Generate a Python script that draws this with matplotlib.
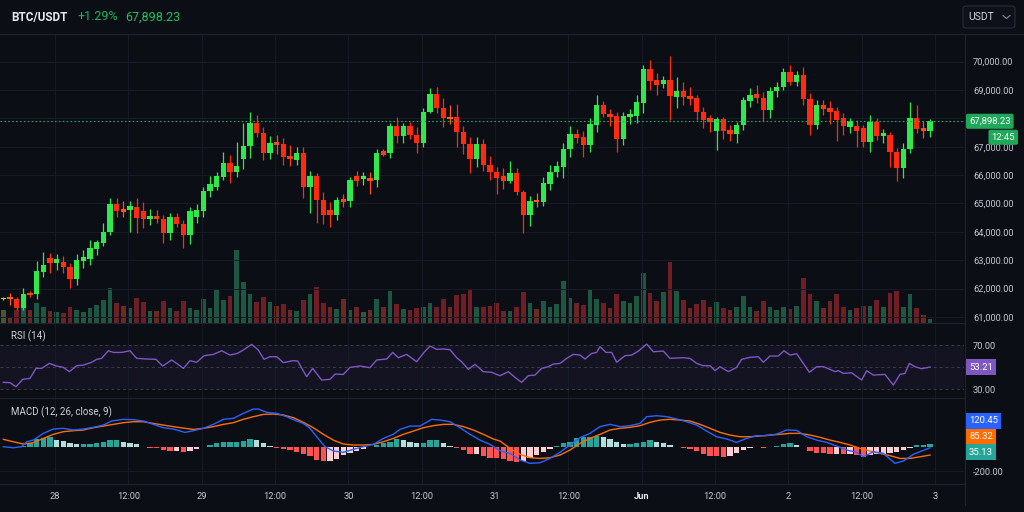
import numpy as np
import matplotlib.pyplot as plt
import matplotlib.transforms as mtransforms
from matplotlib.colors import LinearSegmentedColormap, Normalize
from matplotlib.patches import FancyBboxPatch
from matplotlib.lines import Line2D
from matplotlib.ticker import FuncFormatter

plt.rcParams['font.family'] = ['Roboto', 'DejaVu Sans']

# ---- data (one candle per slot) ----
opens = [61640, 61690, 61620, 61310, 61860, 61810, 62600, 63070, 62890, 62940,
         62770, 62350, 62990, 63030, 63400, 63620, 63980, 64980, 64790, 64770,
         64870, 64750, 64440, 64560, 64440, 63950, 64510, 64280, 63880, 64510,
         64750, 65440, 65590, 65950, 66420, 66120, 66570, 67030, 67830, 67470,
         66770, 67150, 67100, 66670, 66530, 66770, 65590, 65970, 65120, 64770,
         64600, 65150, 65100, 65970, 65880, 65900, 65830, 66840, 66790, 67730,
         67380, 67730, 67420, 67150, 68240, 68860, 68360, 68060, 68040, 67520,
         67100, 66580, 67100, 66360, 66120, 65970, 65810, 66090, 65420, 64580,
         65120, 65070, 65690, 66120, 66300, 66910, 67450, 67330, 67060, 67780,
         68470, 68160, 68090, 67260, 68060, 68090, 68560, 69730, 69350, 69200,
         69350, 68770, 68980, 68790, 68710, 68230, 68000, 67570, 67980, 67590,
         67450, 67770, 68630, 68860, 68710, 68300, 68980, 69120, 69640, 69300,
         69520, 68670, 67760, 68470, 68380, 68260, 68030, 67710, 67730, 67650,
         67160, 67890, 67380, 67420, 66820, 66240, 66920, 68030, 67650, 67560]
highs = [61720, 61860, 61720, 62010, 61930, 62990, 63300, 63270, 63220, 63150,
         62890, 63220, 63360, 63710, 63710, 64320, 65180, 65180, 65100, 65100,
         65180, 65070, 64790, 64770, 64600, 64680, 64680, 64420, 64890, 64980,
         65590, 65970, 66120, 66830, 66710, 67180, 67830, 68240, 68120, 67710,
         67380, 67420, 67300, 67060, 67000, 66980, 66160, 66090, 65420, 65070,
         65240, 65340, 65950, 66160, 66120, 66120, 66910, 66910, 67850, 68040,
         67850, 67890, 67690, 68360, 69060, 69100, 68710, 68470, 68510, 67730,
         67330, 67330, 67260, 66670, 66280, 66240, 66510, 66240, 65480, 65270,
         65360, 65920, 66360, 66510, 67120, 67730, 67610, 67570, 68000, 68830,
         68630, 68320, 68240, 68240, 68320, 68830, 69880, 70060, 69590, 69500,
         70200, 69450, 69300, 69100, 68830, 68410, 68120, 68060, 68060, 67770,
         67890, 68770, 69060, 69180, 68940, 69120, 69300, 69770, 69880, 69680,
         69820, 68910, 68650, 68650, 68630, 68390, 68200, 68000, 67940, 67770,
         68120, 68000, 67610, 67530, 66950, 67150, 68590, 68470, 67920, 67990]
lows = [61600, 61420, 61250, 61250, 61690, 61620, 62420, 62560, 62660, 62540,
        62010, 62130, 62720, 62830, 63190, 63500, 63890, 64540, 64540, 64010,
        63950, 64130, 64240, 64300, 63620, 63710, 64180, 63420, 63570, 64320,
        64540, 65240, 65480, 65830, 65740, 65950, 66210, 66590, 67330, 66530,
        66560, 66750, 66360, 66320, 66360, 65180, 64650, 64300, 64280, 64180,
        64420, 64870, 64890, 65620, 65650, 65340, 65570, 66670, 66590, 67150,
        67150, 67260, 66790, 66980, 68180, 68200, 67690, 67800, 66980, 66750,
        66090, 66280, 66160, 65830, 65340, 65500, 65710, 65300, 63950, 64210,
        64870, 64910, 65480, 65920, 65890, 66630, 67150, 66630, 66830, 67530,
        68060, 67730, 66830, 67060, 67800, 67850, 68180, 69000, 68830, 69060,
        67940, 68360, 68470, 68470, 67940, 67650, 67530, 66890, 67260, 67220,
        67150, 67590, 68410, 68530, 67920, 68000, 68770, 69000, 69180, 69140,
        68470, 67420, 67610, 68120, 67800, 67220, 67420, 67500, 66980, 66980,
        66830, 67240, 67150, 66300, 65810, 65890, 66770, 67470, 67300, 67330]
closes = [61660, 61620, 61310, 61810, 61760, 62630, 62830, 62910, 63060, 62770,
          62350, 63010, 63100, 63420, 63630, 64010, 64980, 64750, 64710, 64910,
          64480, 64440, 64560, 64440, 63950, 64510, 64280, 63880, 64750, 64770,
          65440, 65690, 65970, 66440, 66120, 66320, 67030, 67830, 67500, 66770,
          67120, 67060, 66630, 66560, 66790, 65590, 65970, 65120, 64600, 64600,
          65120, 65050, 65830, 65810, 65970, 65810, 66770, 66720, 67730, 67380,
          67730, 67420, 67150, 68240, 68860, 68360, 68000, 67990, 67520, 67100,
          66580, 67100, 66360, 66120, 65890, 65810, 66090, 65420, 64580, 65090,
          65050, 65710, 66110, 66320, 66930, 67440, 67300, 67060, 67800, 68470,
          68160, 68040, 67260, 68090, 68160, 68590, 69730, 69330, 69180, 69350,
          68790, 68980, 68740, 68670, 68230, 67940, 67890, 67980, 67570, 67450,
          67770, 68650, 68830, 68710, 68300, 68980, 69120, 69640, 69300, 69520,
          68670, 67770, 68470, 68340, 68230, 67940, 67730, 67910, 67540, 67160,
          67890, 67380, 67500, 66820, 66240, 66930, 68030, 67640, 67560, 67898.23]
volumes = [380, 130, 380, 430, 380, 600, 460, 360, 330, 300, 480, 380, 330, 450,
           530, 680, 1030, 580, 510, 430, 730, 630, 350, 350, 650, 450, 350, 650,
           430, 380, 710, 450, 1000, 680, 810, 2180, 1210, 850, 610, 780, 630, 500,
           550, 380, 350, 680, 850, 1080, 580, 480, 400, 710, 380, 470, 330, 380,
           710, 470, 950, 550, 400, 380, 430, 480, 580, 480, 700, 480, 830, 850,
           1010, 480, 460, 500, 580, 360, 360, 470, 930, 600, 410, 650, 480, 550,
           1260, 730, 580, 530, 980, 710, 580, 430, 860, 650, 580, 810, 1500, 900,
           660, 930, 1830, 960, 680, 430, 570, 680, 480, 610, 450, 380, 480, 810,
           460, 360, 660, 460, 380, 480, 400, 500, 1330, 860, 660, 430, 660, 860,
           480, 380, 430, 500, 500, 680, 480, 880, 960, 480, 850, 450, 230, 110]

rsi_x = [0, 1, 1.9, 2.9, 4, 4.9, 5.75, 6.9, 8, 9, 9.9, 11, 12, 13.25, 14, 14.75,
         15.75, 16.5, 17.75, 19, 20, 21.5, 22.9, 23.9, 25.25, 26, 27, 28, 29, 30.1,
         31.5, 32.75, 34, 35.1, 36, 37.25, 38.25, 39.1, 40, 41, 42, 43.5, 44.15,
         45.5, 46.4, 47.75, 49, 49.75, 51, 52, 53.5, 55, 56, 57.5, 58.4, 59.25,
         60.5, 62, 63.1, 64, 65, 66, 67, 68, 68.75, 69.75, 70.75, 72, 73.25,
         74.5, 75.75, 76.75, 77.75, 78.75, 79.75, 80.75, 81.75, 82.5, 83.5, 84.5,
         85.5, 86.5, 87.25, 88.25, 89, 89.5, 90.4, 91.25, 92, 93.25, 94.25, 95.25,
         96.5, 97.5, 99, 100, 102, 103, 104, 105, 106, 106.75, 107.5, 108.75, 110,
         110.75, 112, 113.25, 114, 115, 116.25, 117.1, 118, 119, 120, 120.9, 122,
         123, 124, 124.75, 125.25, 126, 127.25, 128.75, 129.5, 130.5, 132.25,
         133.5, 134.5, 135.25, 135.9, 136.75, 137.75, 139]
rsi_vals = [36.1, 35.8, 32.1, 38.8, 39.7, 48.8, 48.8, 53.3, 50.9, 49.7, 45.8, 51.2,
            51.8, 54.3, 57.0, 57.9, 64.8, 63.3, 63.3, 64.8, 57.9, 57.3, 57.0, 50.9,
            56.4, 53.3, 48.8, 55.8, 54.3, 60.3, 61.5, 64.8, 60.9, 62.4, 65.5, 70.6,
            65.5, 57.0, 59.4, 59.4, 54.0, 55.8, 55.5, 41.2, 48.8, 38.2, 38.8, 43.6,
            43.3, 49.7, 50.9, 49.4, 56.4, 57.3, 63.3, 58.5, 61.5, 54.8, 63.3, 69.1,
            66.1, 66.4, 65.8, 58.5, 54.8, 47.9, 52.4, 45.8, 45.2,
            42.1, 45.8, 40.6, 36.1, 42.1, 42.7, 48.8, 50.3, 52.7, 53.3, 57.9, 61.5,
            60.9, 57.3, 62.4, 63.3, 68.5, 63.3, 63.3, 54.3, 60.3, 60.9, 64.5, 70.9,
            63.9, 64.5, 57.9, 58.5, 57.9, 53.3, 51.2, 51.2, 46.7, 50.3, 45.8, 49.7,
            57.0, 58.8, 59.4, 54.3, 60.0, 60.0, 64.8, 60.9, 62.1, 53.3, 45.2, 50.3,
            50.3, 47.9, 45.8, 46.7, 44.2, 44.8, 38.2, 46.7, 42.7, 43.3, 33.6, 43.3,
            44.2, 53.3, 50.3, 48.5, 50.0]

macd_x = [0, 1.5, 2.75, 3.5, 4.5, 6, 7.5, 9, 10.5, 12, 13.5, 15, 16.25, 18, 19.5,
          21, 22.5, 24, 25.5, 27.25, 28.5, 30, 31.5, 33, 34.5, 36, 37.5, 38.25,
          39.5, 41, 42.5, 44, 45, 46, 47, 48.25, 49.5, 51, 52.5, 54, 55.5, 57,
          58.5, 59.5, 61, 62.5, 64.25, 65.5, 67, 68.5, 70, 71.5, 73, 74.5, 76,
          77.5, 79, 80.5, 82, 83.5, 85, 86.5, 88, 89.5, 91, 92.5, 94, 95.5, 96.5,
          98, 99.5, 101, 102.5, 104, 105.5, 107, 108.5, 110, 111.5, 113, 114.5,
          116, 117.5, 119, 120.5, 122, 123.5, 125, 126.5, 128, 129, 130.5, 132,
          133.75, 135, 136.5, 137.75, 139]
macd_vals = [3, -6, 3, 44, 58, 114, 150, 156, 142, 150, 164, 183, 217, 231, 228,
             217, 189, 161, 150, 122, 136, 156, 189, 231, 239, 281, 317, 317, 289,
             281, 253, 217, 197, 156, 86, 3, -33, -44, -19, 3, 22, 72, 106, 147,
             175, 175, 231, 225, 211, 161, 106, 58, 22, -31, -53, -108, -136, -131,
             -95, -44, 17, 78, 114, 170, 189, 170, 178, 197, 253, 261, 253, 234,
             211, 183, 133, 86, 67, 39, 72, 95, 95, 108, 142, 139, 86, 58, 39, 8,
             -25, -44, -81, -39, -53, -136, -117, -61, -33, -6]
signal_x = [0, 1.5, 3, 4.5, 6, 7.5, 9, 10.5, 12, 13.5, 15, 16.5, 18, 19.5, 21,
            22.5, 24, 25.5, 27.25, 28.5, 30, 31.5, 33, 34.5, 36, 37.5, 39, 40.5,
            42, 43.5, 45, 46.5, 48, 49.5, 51, 52.5, 54, 55.5, 57, 58.5, 60, 61.5,
            63, 64.5, 66, 67.5, 69, 70.5, 72, 73.5, 74.5, 76, 77.5, 79, 80.5, 82,
            83.5, 85, 86.5, 88, 89.5, 91, 92.5, 94, 95.5, 97, 98.5, 100, 101.5,
            103, 104.5, 106, 107.5, 109, 110.5, 112, 113.5, 115, 116.5, 118, 119.5,
            121, 122.5, 124, 125.5, 127, 128.5, 130, 131.5, 133, 134.5, 136, 137.5,
            139]
signal_vals = [64, 44, 25, 36, 72, 106, 128, 136, 142, 161, 175, 189, 203, 211,
               211, 197, 183, 170, 156, 147, 156, 170, 189, 203, 231, 253, 272,
               275, 267, 245, 206, 161, 106, 58, 25, 17, 17, 22, 44, 72, 106, 133,
               161, 178, 189, 189, 170, 142, 106, 67, 50, -11, -61, -89, -95, -89,
               -67, -25, 31, 72, 106, 142, 156, 164, 178, 206, 225, 231, 225, 217,
               189, 156, 122, 100, 86, 86, 92, 100, 106, 114, 114, 100, 81, 58, 39,
               17, -11, -33, -53, -72, -95, -95, -81, -67]
hist_vals = [3, -3, -2, 5, 31, 64, 72, 81, 58, 53, 31, 25, 25, 25, 36, 44, 58, 58,
             44, 36, 22, 3, -6, -11, -25, -33, -33, -44, -33, -17, 3, 17, 31, 44,
             44, 44, 53, 64, 58, 31, 11, -6, -17, -25, -39, -61, -75, -108, -117,
             -117, -100, -67, -47, -33, -17, -3, 17, 31, 44, 67, 58, 44, 36, 36, 58,
             58, 31, 11, -6, -25, -61, -61, -72, -89, -95, -100, -115, -122, -117,
             -89, -67, -44, -17, 8, 31, 44, 72, 81, 86, 92, 81, 64, 44, 22, 22, 31,
             44, 58, 44, 36, 17, 3, -6, -19, -33, -61, -72, -75, -81, -75, -53, -25,
             -6, -3, -6, -3, 11, 22, 31, 17, 3, -33, -47, -53, -58, -58, -61, -61,
             -67, -81, -67, -61, -61, -53, -44, -25, -11, 17, 17, 22]

tick_labels = ['28', '12:00', '29', '12:00', '30', '12:00', '31', '12:00',
               'Jun', '12:00', '2', '12:00', '3']
price_ticks = [61000, 62000, 63000, 64000, 65000, 66000, 67000, 68000, 69000, 70000]
pair = 'BTC/USDT'
change_txt = '+1.29%'
last_price = 67898.23
countdown = '12:45'
rsi_last = 53.21
macd_last, signal_last, hist_last = 120.45, 85.32, 35.13

# ---- style ----
BG = '#0b0e15'
GRID = '#171b25'
LINE = '#1f2330'
TXT = '#c4c7cf'
W, H = 1024, 512

opens = np.array(opens, float)
closes = np.array(closes, float)
highs = np.array(highs, float)
lows = np.array(lows, float)
idx = np.arange(len(closes))
change = closes - opens

# candle tint goes red -> orange -> yellow -> lime -> green with the body move
tone = LinearSegmentedColormap.from_list('tone', [
    (0.0, '#ff2a10'), (0.28, '#ff3a14'), (0.42, '#ff7a1a'), (0.5, '#f5c010'),
    (0.58, '#a8e52c'), (0.7, '#3de64c'), (1.0, '#2ee84c')])
vtone = LinearSegmentedColormap.from_list('vtone', [
    (0.0, '#701e26'), (0.4, '#6a2c22'), (0.5, '#5a5226'), (0.6, '#3a5a32'),
    (0.75, '#1d5742'), (1.0, '#1d5742')])
norm = Normalize(-250, 250, clip=True)
candle_colors = tone(norm(change))
vol_colors = vtone(norm(change))

fig = plt.figure(figsize=(W / 100, H / 100), dpi=100, facecolor=BG)


def px_box(x0, y0, x1, y1):
    return [x0 / W, 1 - y1 / H, (x1 - x0) / W, (y1 - y0) / H]


ax_vol = fig.add_axes(px_box(0, 34.5, 964, 322.5))
ax = fig.add_axes(px_box(0, 34.5, 964, 322.5), sharex=ax_vol)
ax_rsi = fig.add_axes(px_box(0, 322.5, 964, 397.5), sharex=ax_vol)
ax_macd = fig.add_axes(px_box(0, 397.5, 964, 483.5), sharex=ax_vol)

tick_pos = 7.75 + 11.0 * np.arange(len(tick_labels))

for a in (ax_vol, ax, ax_rsi, ax_macd):
    a.set_facecolor(BG)
    for s in a.spines.values():
        s.set_visible(False)
    a.set_xticks(tick_pos)
    a.tick_params(axis='both', length=0, labelsize=6.7, labelcolor=TXT)
    a.grid(True, axis='x', color=GRID, lw=0.7)
ax.patch.set_visible(False)
ax.set_xlim(-0.5, 144.1)

# volume
ax_vol.bar(idx, volumes, width=0.74, color=vol_colors, zorder=2)
ax_vol.set_ylim(0, 8640)
ax_vol.set_yticks([])
ax_vol.tick_params(labelbottom=False)

# candles
ax.vlines(idx, lows, highs, colors=candle_colors, lw=0.9, zorder=3)
body = np.maximum(np.abs(change), 30)
ax.bar(idx, body, bottom=np.minimum(opens, closes), width=0.76,
       color=candle_colors, zorder=4)
ax.set_ylim(60805, 70957)
ax.yaxis.tick_right()
ax.set_yticks(price_ticks)
ax.yaxis.set_major_formatter(FuncFormatter(lambda v, p: f'{v:,.2f}'))
ax.tick_params(axis='y', pad=6.5)
ax.tick_params(labelbottom=False)
ax.grid(True, axis='y', color=GRID, lw=0.7)
ax.axhline(last_price, color='#22ab5e', ls=(0, (1.5, 2)), lw=0.8, zorder=5)

right = mtransforms.blended_transform_factory(ax.transAxes, ax.transData)
ax.text(1.0 + 5 / 964, last_price, f'{last_price:,.2f}', transform=right,
        ha='left', va='center', color='white', fontsize=6.8, zorder=10,
        clip_on=False,
        bbox=dict(boxstyle='round,pad=0.32,rounding_size=0.2', fc='#1fa85a', ec='none'))
ax.annotate(countdown, xy=(1.0, last_price), xycoords=right, xytext=(51, -16),
            textcoords='offset pixels', ha='right', va='center', color='white',
            fontsize=6.8, annotation_clip=False, zorder=10,
            bbox=dict(boxstyle='round,pad=0.32,rounding_size=0.2', fc='#1fa85a', ec='none'))

# RSI
ax_rsi.axhspan(30, 70, color='#7e57c2', alpha=0.08, lw=0)
for lvl in (70, 50, 30):
    ax_rsi.axhline(lvl, color='#3a3e4a', ls=(0, (3, 3)), lw=0.7)
ax_rsi.plot(rsi_x, rsi_vals, color='#7e57c2', lw=1.0)
ax_rsi.set_ylim(22.3, 90.5)
ax_rsi.yaxis.tick_right()
ax_rsi.set_yticks([30, 70])
ax_rsi.yaxis.set_major_formatter(FuncFormatter(lambda v, p: f'{v:.2f}'))
ax_rsi.tick_params(axis='y', pad=6.5)
ax_rsi.tick_params(labelbottom=False)
ax_rsi.text(0.011, 0.82, 'RSI (14)', transform=ax_rsi.transAxes, color='#d1d4dc',
            fontsize=7, va='center')
rsi_right = mtransforms.blended_transform_factory(ax_rsi.transAxes, ax_rsi.transData)
ax_rsi.text(1.0 + 5 / 964, rsi_vals[-1], f'{rsi_last:.2f}', transform=rsi_right,
            ha='left', va='center', color='white', fontsize=6.8, clip_on=False,
            bbox=dict(boxstyle='square,pad=0.35', fc='#7e57c2', ec='none'))

# MACD
hist = np.array(hist_vals, float)
prev = np.concatenate([[hist[0]], hist[:-1]])
hist_colors = np.where(hist >= 0,
                       np.where(hist >= prev, '#26a69a', '#b2dfdb'),
                       np.where(hist < prev, '#ff5252', '#ffcdd2'))
ax_macd.bar(idx, hist, width=0.8, color=hist_colors, zorder=2)
ax_macd.plot(signal_x, signal_vals, color='#ff6d00', lw=1.0, zorder=3)
ax_macd.plot(macd_x, macd_vals, color='#2962ff', lw=1.0, zorder=4)
ax_macd.set_ylim(-304, 413)
ax_macd.yaxis.tick_right()
ax_macd.set_yticks([-200])
ax_macd.yaxis.set_major_formatter(FuncFormatter(lambda v, p: f'{v:.2f}'))
ax_macd.tick_params(axis='y', pad=6.5)
ax_macd.grid(True, axis='y', color=GRID, lw=0.7)
ax_macd.set_xticklabels(tick_labels)
ax_macd.tick_params(axis='x', pad=6)
for lab in ax_macd.get_xticklabels():
    if lab.get_text() == 'Jun':
        lab.set_fontweight('bold')
        lab.set_color('#e6e8ec')
ax_macd.text(0.011, 0.83, 'MACD (12, 26, close, 9)', transform=ax_macd.transAxes,
             color='#d1d4dc', fontsize=7, va='center')
for val, frac, col in ((macd_last, 0.727, '#2962ff'), (signal_last, 0.541, '#ff6d00'),
                       (hist_last, 0.366, '#26a69a')):
    ax_macd.text(1.0 + 5 / 964, frac, f'{val:.2f}', transform=ax_macd.transAxes,
                 ha='left', va='center', color='white', fontsize=6.8, clip_on=False,
                 bbox=dict(boxstyle='square,pad=0.35', fc=col, ec='none'))

# frame lines
fig.add_artist(Line2D([0, 1], [1 - 34 / H] * 2, color=LINE, lw=0.8))
fig.add_artist(Line2D([964.5 / W] * 2, [1 - 34 / H, 1 - 505 / H], color=LINE, lw=0.8))
for yy in (322.5, 397.5, 483.5):
    fig.add_artist(Line2D([0, 964.5 / W], [1 - yy / H] * 2, color=LINE, lw=0.8))

# header
fig.text(11 / W, 1 - 17 / H, pair, fontsize=8.5, weight='bold', color='#e8e9ec', va='center')
fig.text(77 / W, 1 - 17 / H, change_txt, fontsize=9, color='#22b55a', va='center')
fig.text(125 / W, 1 - 17 / H, f'{last_price:,.2f}', fontsize=9, color='#23c05f', va='center')
fig.add_artist(FancyBboxPatch((963 / W, 1 - 28 / H), 52 / W, 22 / H,
                              boxstyle='round,pad=0,rounding_size=0.004',
                              transform=fig.transFigure, fc='#0e1119', ec='#2a2e39', lw=0.8))
fig.text(968 / W, 1 - 17 / H, 'USDT', fontsize=7.5, color='#d1d4dc', va='center')
fig.add_artist(Line2D([1003 / W, 1006.5 / W, 1010 / W],
                      [1 - 15.5 / H, 1 - 18.5 / H, 1 - 15.5 / H], color='#8a8e99', lw=0.8))

fig.savefig('out.png', dpi=100, facecolor=BG)
